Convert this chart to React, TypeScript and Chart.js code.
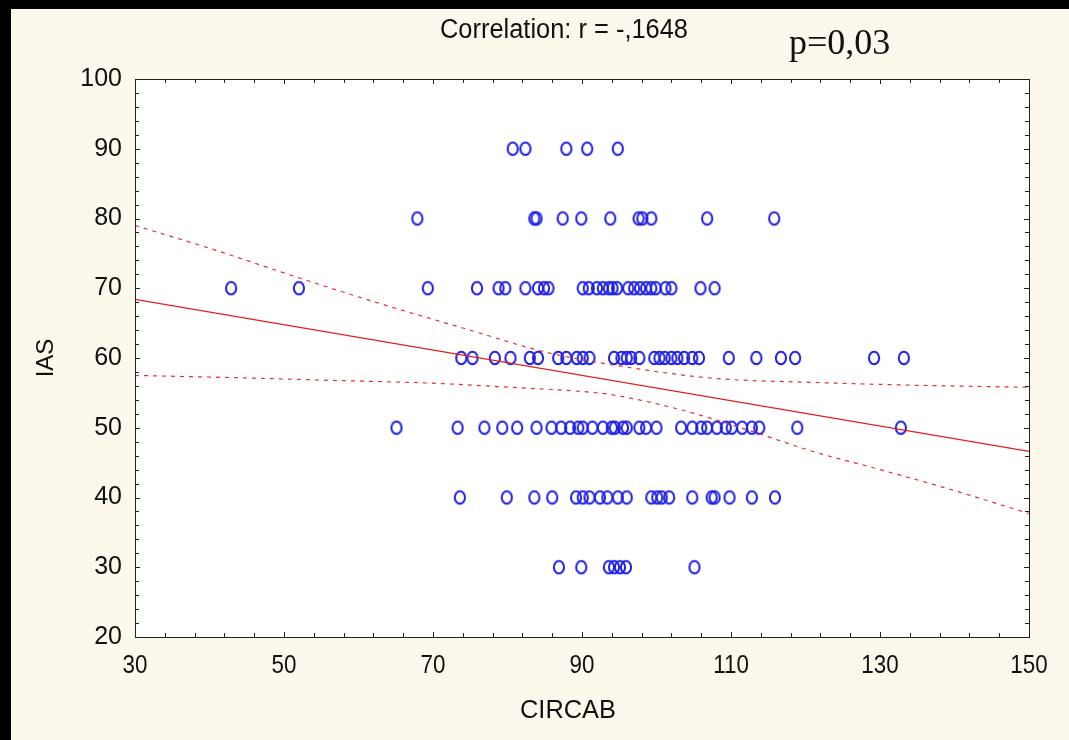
import React, { useEffect, useRef } from "react";
import { Chart, registerables } from "chart.js";

Chart.register(...registerables);

// ---- Data ----
const xMin = 30;
const xMax = 150;
const yMin = 20;
const yMax = 100;
const xTickValues = [30, 50, 70, 90, 110, 130, 150];
const yTickValues = [20, 30, 40, 50, 60, 70, 80, 90, 100];

const chartTitle = "Correlation: r = -,1648";
const pValueText = "p=0,03";
const xAxisTitle = "CIRCAB";
const yAxisTitle = "IAS";

// CIRCAB values at each IAS level
const circabAt90 = [80.7, 82.4, 87.9, 90.7, 94.8];
const circabAt80 = [67.9, 83.6, 83.9, 87.4, 89.9, 93.8, 97.6, 98.1, 99.3, 106.8, 115.8];
const circabAt70 = [42.9, 52.0, 69.3, 75.9, 78.8, 79.7, 82.4, 84.1, 84.9, 85.5, 90.1, 90.9, 92.0, 92.8, 93.6, 94.1, 94.7, 96.2, 97.0, 97.8, 98.6, 99.3, 99.9, 101.2, 102.0, 105.9, 107.8];
const circabAt60 = [73.8, 75.3, 78.3, 80.4, 83.0, 84.1, 86.8, 87.9, 89.3, 90.1, 91.0, 94.3, 95.3, 96.0, 96.6, 97.7, 99.7, 100.4, 101.1, 102.0, 102.8, 103.7, 104.8, 105.7, 109.7, 113.4, 116.7, 118.6, 129.2, 133.2];
const circabAt50 = [65.1, 73.3, 76.9, 79.3, 81.3, 83.9, 85.9, 87.2, 88.4, 89.5, 90.1, 91.4, 92.8, 94.0, 94.4, 95.5, 96.0, 97.7, 98.6, 100.0, 103.3, 104.8, 106.0, 106.8, 108.1, 109.3, 110.1, 111.5, 112.8, 113.8, 118.9, 132.8];
const circabAt40 = [73.6, 79.9, 83.6, 86.0, 89.2, 90.1, 91.0, 92.4, 93.4, 94.8, 96.0, 99.3, 100.1, 100.7, 101.7, 104.8, 107.4, 107.8, 109.8, 112.8, 115.9];
const circabAt30 = [86.9, 89.9, 93.6, 94.3, 95.1, 95.9, 105.1];

const iasLevels = [90, 80, 70, 60, 50, 40, 30];
const circabByLevel = [circabAt90, circabAt80, circabAt70, circabAt60, circabAt50, circabAt40, circabAt30];

// Regression line and 95% confidence band
const fitX = [30, 150];
const fitY = [68.4, 46.6];
const upperX = [30, 40.4, 51.7, 62.9, 74.0, 85.3, 94.2, 107.6, 121.0, 134.5, 150];
const upperY = [79.0, 75.6, 71.6, 67.8, 64.3, 60.8, 59.0, 57.1, 56.5, 56.1, 55.8];
const lowerX = [30, 42.7, 56.1, 69.6, 78.6, 91.1, 94.2, 103.2, 112.2, 121.0, 130.0, 139.0, 150];
const lowerY = [57.5, 57.2, 56.8, 56.4, 55.9, 55.1, 54.7, 52.6, 49.7, 46.6, 44.0, 41.3, 37.7];

const CREAM = "#fcf8ec";
const SANS = "'Liberation Sans', Arial, sans-serif";

function makeRing(): HTMLCanvasElement {
  const c = document.createElement("canvas");
  c.width = 16;
  c.height = 18;
  const g = c.getContext("2d")!;
  g.strokeStyle = "#1e1ee6";
  g.lineWidth = 2;
  g.beginPath();
  g.ellipse(8, 9, 5.1, 6.2, 0, 0, Math.PI * 2);
  g.stroke();
  return c;
}

// draw text squeezed to a given width (condensed look of the original)
function fitText(ctx: CanvasRenderingContext2D, text: string, x: number, y: number, font: string, width: number) {
  ctx.save();
  ctx.font = font;
  const w = ctx.measureText(text).width;
  ctx.translate(x, y);
  ctx.scale(width / w, 1);
  ctx.textAlign = "center";
  ctx.textBaseline = "middle";
  ctx.fillText(text, 0, 0);
  ctx.restore();
}

function squeezeText(ctx: CanvasRenderingContext2D, text: string, x: number, y: number, font: string, sx: number) {
  ctx.save();
  ctx.font = font;
  ctx.translate(x, y);
  ctx.scale(sx, 1);
  ctx.textAlign = "center";
  ctx.textBaseline = "middle";
  ctx.fillText(text, 0, 0);
  ctx.restore();
}

const framePlugin = {
  id: "statFrame",
  beforeDraw(chart: any) {
    const { ctx, width, height, chartArea } = chart;
    ctx.save();
    ctx.fillStyle = CREAM;
    ctx.fillRect(0, 0, width, height);
    ctx.fillStyle = "#000";
    ctx.fillRect(0, 0, width, 9);
    ctx.fillRect(0, 0, 11, height);
    ctx.fillStyle = "#fff";
    ctx.fillRect(chartArea.left, chartArea.top, chartArea.right - chartArea.left, chartArea.bottom - chartArea.top);
    ctx.restore();
  },
  afterDraw(chart: any) {
    const { ctx, chartArea } = chart;
    const xs = chart.scales.x;
    const ys = chart.scales.y;
    const { left, right, top, bottom } = chartArea;
    ctx.save();
    ctx.strokeStyle = "#222";
    ctx.lineWidth = 1;
    ctx.strokeRect(Math.round(left) + 0.5, Math.round(top) + 0.5, Math.round(right - left), Math.round(bottom - top));
    ctx.beginPath();
    for (let v = xMin; v <= xMax; v += 4) {
      const px = Math.round(xs.getPixelForValue(v)) + 0.5;
      const len = (v - 30) % 20 === 0 ? 5 : 4;
      ctx.moveTo(px, bottom);
      ctx.lineTo(px, bottom - len);
      ctx.moveTo(px, top);
      ctx.lineTo(px, top + len);
    }
    for (let v = yMin; v <= yMax; v += 2) {
      const py = Math.round(ys.getPixelForValue(v)) + 0.5;
      const len = v % 10 === 0 ? 5 : 4;
      ctx.moveTo(left, py);
      ctx.lineTo(left + len, py);
      ctx.moveTo(right, py);
      ctx.lineTo(right - len, py);
    }
    ctx.stroke();

    ctx.fillStyle = "#111";
    // x tick labels (condensed)
    xTickValues.forEach((v) => {
      squeezeText(ctx, String(v), xs.getPixelForValue(v), bottom + 29, `26px ${SANS}`, 0.86);
    });
    // y tick labels
    ctx.font = `25px ${SANS}`;
    ctx.textAlign = "right";
    ctx.textBaseline = "middle";
    yTickValues.forEach((v) => {
      ctx.fillText(String(v), left - 13, ys.getPixelForValue(v));
    });
    fitText(ctx, chartTitle, 564, 31, `27px ${SANS}`, 248);
    fitText(ctx, xAxisTitle, 568, 711, `26px ${SANS}`, 96);
    ctx.font = `36px 'Liberation Serif', 'Times New Roman', serif`;
    ctx.textAlign = "left";
    ctx.textBaseline = "middle";
    ctx.fillText(pValueText, 789, 45);
    ctx.save();
    ctx.translate(46, 358);
    ctx.rotate(-Math.PI / 2);
    ctx.textAlign = "center";
    ctx.font = `24px ${SANS}`;
    ctx.fillText(yAxisTitle, 0, 0);
    ctx.restore();
    ctx.restore();
  },
};

export default function App() {
  const ref = useRef<HTMLCanvasElement | null>(null);
  useEffect(() => {
    document.body.style.margin = "0";
    const ring = makeRing();
    const points: { x: number; y: number }[] = [];
    iasLevels.forEach((lvl, i) => circabByLevel[i].forEach((x) => points.push({ x, y: lvl })));
    const toXY = (xs: number[], ys: number[]) => xs.map((x, i) => ({ x, y: ys[i] }));
    const bandStyle = {
      showLine: true,
      borderColor: "#e0303a",
      borderWidth: 1.2,
      borderDash: [4, 5],
      pointRadius: 0,
      cubicInterpolationMode: "monotone",
      fill: false,
    };
    const chart = new Chart(ref.current!, {
      type: "scatter",
      data: {
        datasets: [
          { label: "Upper 95%", data: toXY(upperX, upperY), ...bandStyle } as any,
          { label: "Lower 95%", data: toXY(lowerX, lowerY), ...bandStyle } as any,
          {
            label: "Fit",
            data: toXY(fitX, fitY),
            showLine: true,
            borderColor: "#e02020",
            borderWidth: 1.3,
            pointRadius: 0,
            fill: false,
          } as any,
          {
            label: "IAS vs CIRCAB",
            data: points,
            pointStyle: ring as any,
            pointRadius: 6,
            borderColor: "#1e1ee6",
            backgroundColor: "rgba(0,0,0,0)",
          } as any,
        ],
      },
      options: {
        animation: false,
        responsive: false,
        events: [],
        layout: { padding: { top: 79, right: 40, left: 0, bottom: 0 } },
        plugins: { legend: { display: false }, tooltip: { enabled: false }, title: { display: false } },
        scales: {
          x: {
            type: "linear",
            min: xMin,
            max: xMax,
            grid: { display: false },
            border: { display: false },
            afterBuildTicks: (s: any) => {
              s.ticks = xTickValues.map((v) => ({ value: v }));
            },
            afterFit: (s: any) => {
              s.height = 103;
            },
            ticks: { display: false },
          },
          y: {
            type: "linear",
            min: yMin,
            max: yMax,
            grid: { display: false },
            border: { display: false },
            afterBuildTicks: (s: any) => {
              s.ticks = yTickValues.map((v) => ({ value: v }));
            },
            afterFit: (s: any) => {
              s.width = 135;
            },
            ticks: { display: false },
          },
        },
      },
      plugins: [framePlugin],
    });
    return () => chart.destroy();
  }, []);
  return (
    <div style={{ position: "absolute", left: 0, top: 0, width: 1069, height: 740 }}>
      <canvas ref={ref} width={1069} height={740} style={{ display: "block", width: 1069, height: 740 }} />
    </div>
  );
}
